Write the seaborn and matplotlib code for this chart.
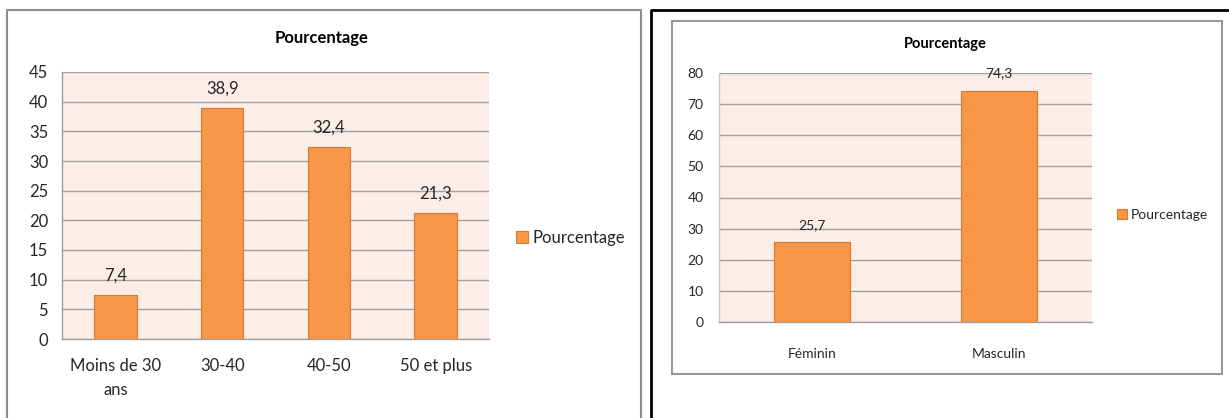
import matplotlib
matplotlib.use("Agg")
import matplotlib.pyplot as plt
from matplotlib.patches import Rectangle
import seaborn as sns
import pandas as pd

# --- data ---
age_labels = ["Moins de 30\nans", "30-40", "40-50", "50 et plus"]
age_values = [7.4, 38.9, 32.4, 21.3]
sex_labels = ["Féminin", "Masculin"]
sex_values = [25.7, 74.3]
series_name = "Pourcentage"

BAR = "#F79646"
EDGE = "#D9782F"
BG = "#FCEDE8"
GRID = "#A0A0A0"
TXT = "#262626"

sns.set_theme(style="white")
plt.rcParams["font.family"] = ["Lato", "DejaVu Sans"]

W, H = 1229, 418
fig = plt.figure(figsize=(W / 100, H / 100), dpi=100)


def fx(x):
    return x / W


def fy(y):
    return 1 - y / H


def box(x0, y0, x1, y1, color, lw):
    fig.add_artist(Rectangle((fx(x0), fy(y1)), fx(x1 - x0), y1 / H - y0 / H,
                             transform=fig.transFigure, fill=False,
                             edgecolor=color, linewidth=lw, clip_on=False))


# panel frames
box(7, 10, 641, 430, "#8C8C8C", 1.5)
fig.add_artist(plt.Line2D([fx(651), fx(651), fx(1240)], [fy(430), fy(10), fy(10)],
                          transform=fig.transFigure, color="black", linewidth=2))
box(672, 21, 1222, 374, "#8C8C8C", 1.3)


def draw(ax, labels, values, ymax, step, width, fs, ticks_out, xpad):
    df = pd.DataFrame({"cat": labels, "val": values})
    sns.barplot(data=df, x="cat", y="val", ax=ax, color=BAR, width=width,
                edgecolor=EDGE, linewidth=0.8, saturation=1, label=series_name,
                zorder=3)
    ax.set_facecolor(BG)
    ax.set_ylim(0, ymax)
    ax.set_xlim(-0.5, len(labels) - 0.5)
    ax.set_yticks(range(0, ymax + 1, step))
    ax.yaxis.grid(True, color=GRID, linewidth=1, zorder=0)
    ax.set_axisbelow(True)
    ax.set_xlabel("")
    ax.set_ylabel("")
    for s in ["top", "right"]:
        ax.spines[s].set_visible(False)
    for s in ["left", "bottom"]:
        ax.spines[s].set_color(GRID)
        ax.spines[s].set_linewidth(1)
    if not ticks_out:
        ax.spines["left"].set_color("#D0C8C6")
    ax.tick_params(axis="both", labelsize=fs, colors=TXT)
    ax.tick_params(axis="x", length=0, pad=xpad)
    for t in ax.get_xticklabels():
        t.set_linespacing(1.6)
    if ticks_out:
        ax.tick_params(axis="y", length=6, color=GRID, width=1, pad=4)
        ax.set_xticks([i - 0.5 for i in range(len(labels) + 1)], minor=True)
        ax.tick_params(axis="x", which="minor", length=6, color=GRID, width=1)
    else:
        ax.tick_params(axis="y", length=0, pad=11)
    ax.bar_label(ax.containers[0], labels=[f"{v:.1f}".replace(".", ",") for v in values],
                 padding=8, fontsize=fs, color=TXT)


ax1 = fig.add_axes([fx(62), fy(339), fx(489 - 62), (339 - 72) / H])
draw(ax1, age_labels, age_values, 45, 5, 0.4, 12, True, 14)
ax1.legend(loc="center left", bbox_to_anchor=(fx(508), fy(238)),
           bbox_transform=fig.transFigure, frameon=False, fontsize=12,
           handlelength=0.7, handleheight=0.7, handletextpad=0.3, borderpad=0)
fig.text(fx(322), fy(38), series_name, ha="center", va="center",
         fontsize=12, fontweight="bold", color="black")

ax2 = fig.add_axes([fx(719), fy(322), fx(1092 - 719), (322 - 73) / H])
draw(ax2, sex_labels, sex_values, 80, 10, 0.41, 10, False, 19)
ax2.legend(loc="center left", bbox_to_anchor=(fx(1110), fy(215)),
           bbox_transform=fig.transFigure, frameon=False, fontsize=10,
           handlelength=0.7, handleheight=0.7, handletextpad=0.3, borderpad=0)
fig.text(fx(945), fy(44), series_name, ha="center", va="center",
         fontsize=10.5, fontweight="bold", color="black")

fig.savefig("out.png", dpi=100)
